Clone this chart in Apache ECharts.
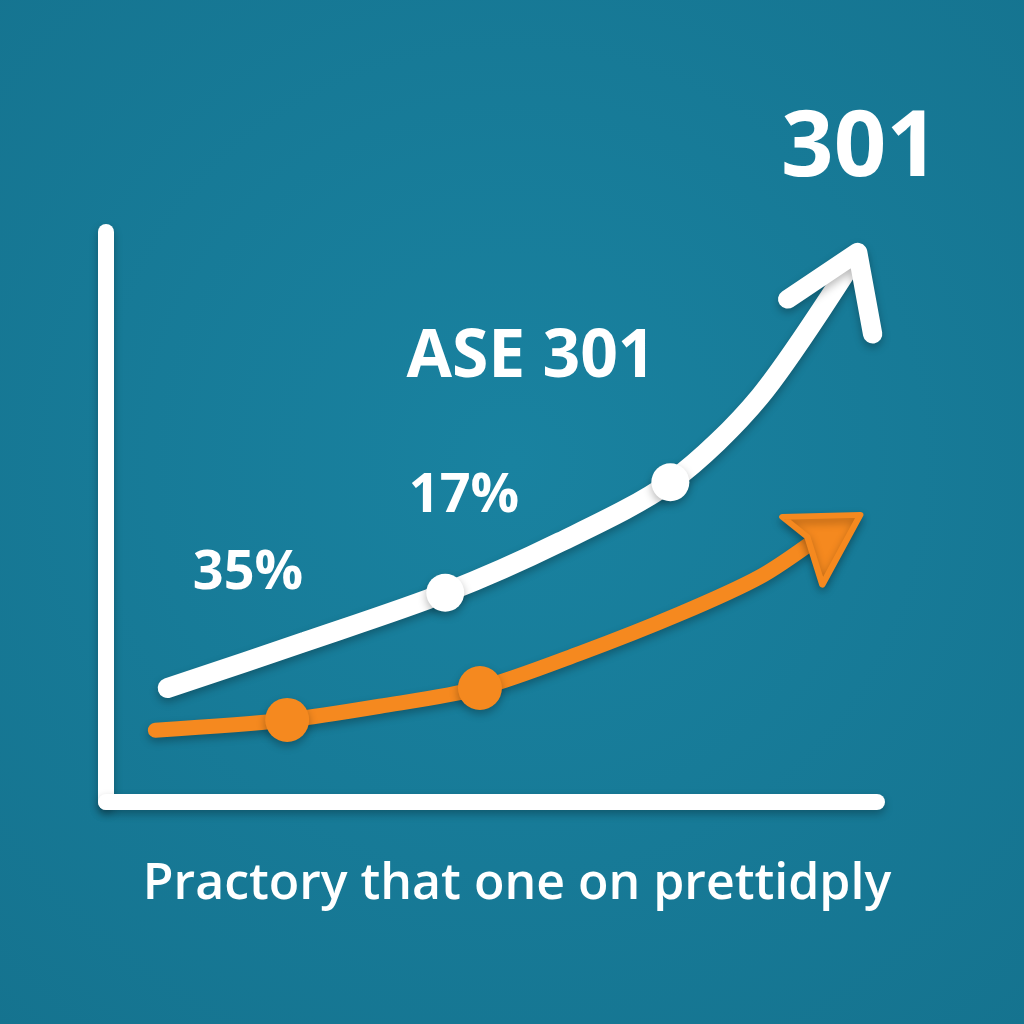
<!DOCTYPE html>
<html>
<head>
<meta charset="utf-8">
<script src="https://cdn.jsdelivr.net/npm/echarts@6/dist/echarts.min.js"></script>
<style>html,body{margin:0;padding:0;}#c{width:1024px;height:1024px;}</style>
</head>
<body>
<div id="c"></div>
<script>
// Data (value space 0-100 on both axes)
const whiteLine = [[8.0,20.0],[25.8,28.1],[44.0,36.7],[58.9,45.6],[73.2,56.1],[84.8,71.1],[97.1,95.4]];
const whiteDots = [[44.0,36.7],[73.2,56.1]];
const orangeLine = [[6.4,12.6],[23.5,14.4],[35.5,16.8],[48.5,20.0],[61.5,26.1],[74.4,33.0],[84.8,39.5],[92.0,46.0]];
const orangeDots = [[23.5,14.4],[48.5,20.0]];
const topLabel = '301';
const seriesLabel = 'ASE 301';
const pctLabels = ['35%', '17%'];
const caption = 'Practory that one on prettidply';

const WHITE = '#ffffff';
const ORANGE = '#f5891f';
const SH = {shadowColor: 'rgba(0,0,0,0.28)', shadowBlur: 8, shadowOffsetY: 4};

const chart = echarts.init(document.getElementById('c'), null, {renderer: 'canvas'});
const axisCommon = {
  type: 'value', min: 0, max: 100,
  axisLine: {show: true, lineStyle: Object.assign({color: WHITE, width: 16, cap: 'round'}, SH)},
  axisTick: {show: false}, axisLabel: {show: false}, splitLine: {show: false}
};
const textShadow = {shadowColor: 'rgba(0,0,0,0.35)', shadowBlur: 8, shadowOffsetY: 4};
function txt(t, x, y, size, weight) {
  return {type: 'text', x: x, y: y, z: 10, style: Object.assign({
    text: t, fill: WHITE, align: 'center', verticalAlign: 'middle',
    font: weight + ' ' + size + 'px "Open Sans", "Noto Sans", sans-serif'
  }, textShadow)};
}
chart.setOption({
  backgroundColor: {type: 'radial', x: 0.5, y: 0.45, r: 0.75, colorStops: [
    {offset: 0, color: '#1982a0'}, {offset: 1, color: '#15738f'}]},
  animation: false,
  grid: {left: 106, right: 147, top: 232, bottom: 222},
  xAxis: axisCommon,
  yAxis: axisCommon,
  series: [
    {type: 'line', data: orangeLine, smooth: 0.3, symbol: 'none', z: 3,
     lineStyle: Object.assign({color: ORANGE, width: 15, cap: 'round'}, SH)},
    {type: 'scatter', data: orangeDots, symbol: 'circle', symbolSize: 44, z: 4,
     itemStyle: Object.assign({color: ORANGE, opacity: 1}, SH)},
    {type: 'scatter', data: [orangeLine[orangeLine.length - 1]], z: 4,
     symbol: 'path://M0,2 L78,0 L40,70 L25,22 Z', symbolSize: [78, 70], symbolOffset: [6, 10],
     itemStyle: Object.assign({color: ORANGE, opacity: 1, borderColor: ORANGE, borderWidth: 6, borderJoin: 'round'}, SH)},
    {type: 'line', data: whiteLine, smooth: 0.3, symbol: 'none', z: 5,
     lineStyle: Object.assign({color: WHITE, width: 20, cap: 'round'}, SH)},
    {type: 'scatter', data: whiteDots, symbol: 'circle', symbolSize: 38, z: 6,
     itemStyle: Object.assign({color: WHITE, opacity: 1}, SH)},
    {type: 'scatter', data: [whiteLine[whiteLine.length - 1]], z: 6,
     symbol: 'path://M0,47 L70,0 L85,82', symbolSize: [85, 82], symbolOffset: [-24.5, 35],
     itemStyle: Object.assign({color: 'rgba(0,0,0,0)', opacity: 1, borderColor: WHITE, borderWidth: 19, borderCap: 'round', borderJoin: 'round'}, SH)}
  ],
  graphic: [
    txt(topLabel, 860, 150, 92, 'bold'),
    txt(seriesLabel, 531, 358, 66, 'bold'),
    txt(pctLabels[1], 464, 497, 54, 'bold'),
    txt(pctLabels[0], 248, 574, 54, 'bold'),
    txt(caption, 517, 885, 50, '600')
  ]
});
</script>
</body>
</html>
